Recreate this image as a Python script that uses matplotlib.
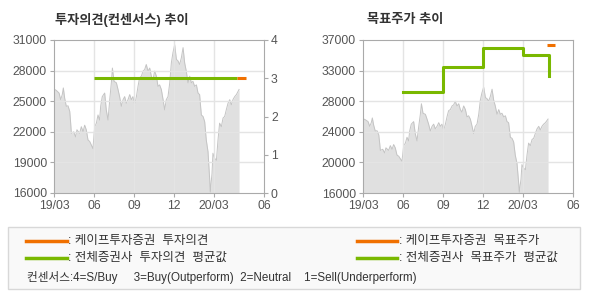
import matplotlib
matplotlib.use("Agg")
import matplotlib.pyplot as plt
from matplotlib.patches import Rectangle
from matplotlib.lines import Line2D

plt.rcParams['font.family'] = ['Liberation Sans', 'Noto Sans CJK KR', 'DejaVu Sans']

# month offsets from 2019/03 and closing price
months = [0, 0.18, 0.38, 0.5, 0.62, 0.7, 0.8, 0.92, 1.05, 1.18, 1.25, 1.3, 1.48, 1.62,
          1.72, 1.92, 2.05, 2.18, 2.3, 2.42, 2.55, 2.68, 2.8, 2.92, 3.05, 3.18, 3.3, 3.42,
          3.5, 3.62, 3.8, 3.92, 4.05, 4.18, 4.3, 4.38, 4.5, 4.68, 4.8, 4.92, 5.05, 5.18,
          5.3, 5.42, 5.55, 5.68, 5.8, 5.92, 6.05, 6.18, 6.3, 6.42, 6.55, 6.68, 6.8, 6.92,
          7.05, 7.18, 7.3, 7.42, 7.55, 7.68, 7.8, 7.92, 8.05, 8.18, 8.3, 8.42, 8.55, 8.68,
          8.8, 8.92, 9.05, 9.18, 9.3, 9.42, 9.55, 9.68, 9.8, 9.92, 10.05, 10.18, 10.3, 10.42,
          10.55, 10.68, 10.8, 10.92, 11.05, 11.18, 11.3, 11.42, 11.55, 11.68, 11.72, 11.85,
          11.92, 12.05, 12.18, 12.3, 12.42, 12.55, 12.68, 12.8, 12.92, 13.05, 13.18, 13.3,
          13.42, 13.55, 13.68, 13.8, 13.88]
price = [26200, 26050, 25800, 25150, 25650, 26300, 25300, 24500, 24550, 24000, 22850, 21850,
         22000, 21500, 22200, 21850, 22500, 22000, 22650, 22200, 21200, 21050, 20700, 20350,
         22500, 22850, 23650, 23150, 24500, 25450, 25800, 24150, 23150, 25150, 26800, 28250,
         26950, 26800, 26150, 25450, 24500, 25150, 25450, 24800, 25150, 25650, 25150, 25450,
         24650, 25450, 26450, 27300, 27450, 27950, 28100, 28600, 27950, 28250, 27450, 27100,
         27950, 27450, 26450, 26600, 26150, 25150, 24150, 25150, 25450, 26800, 28750, 29750,
         30550, 29100, 28950, 28600, 29250, 30250, 28750, 27950, 26800, 27450, 26800, 26950,
         26450, 26600, 25800, 25650, 23650, 23500, 23000, 21200, 20050, 17250, 16100, 17900,
         19900, 19400, 19200, 21200, 22850, 22500, 23350, 23500, 24150, 24800, 25150, 24650,
         25150, 25450, 25650, 25950, 26150]

# consensus opinion (3 = Buy)
op_avg_x = [3, 13.75]
op_avg_y = [3, 3]
op_firm_x = [13.75, 14.43]
op_firm_y = [3, 3]

# target price
tp_avg_x = [3, 6, 9, 12, 13.93]
tp_avg_y = [29900, 33300, 35950, 34900, 32000]
tp_firm_x = [13.78, 14.43]
tp_firm_y = [36300, 36300]

xtick_pos = [0, 3, 6, 9, 12, 15.75]
xtick_lab = ['19/03', '06', '09', '12', '20/03', '06']

GREEN = '#79b800'
ORANGE = '#f07000'
FRAME = '#aaaaaa'
GRID = '#e4e4e4'
TXT = '#555555'


def style_axis(ax, ylo, yhi, yticks, ylabels):
    ax.set_xlim(0, 15.75)
    ax.set_ylim(ylo, yhi)
    ax.set_xticks(xtick_pos)
    ax.set_xticklabels(xtick_lab)
    ax.set_yticks(yticks)
    ax.set_yticklabels(ylabels)
    for s in ax.spines.values():
        s.set_color(FRAME)
    ax.tick_params(colors=FRAME, labelcolor=TXT, labelsize=8.7, length=3, width=0.8, pad=2)
    for t in yticks[1:-1]:
        ax.axhline(t, color=GRID, lw=1, zorder=2)
    for t in xtick_pos[1:-1]:
        ax.axvline(t, color=GRID, lw=1, zorder=2)


fig = plt.figure(figsize=(5.9, 3.0), dpi=100)

# left chart: opinion
ax1 = fig.add_axes([54 / 590, 1 - 193 / 300, 210 / 590, 153 / 300])
left_ticks = [16000, 19000, 22000, 25000, 28000, 31000]
style_axis(ax1, 16000, 31000, left_ticks, [str(v) for v in left_ticks])
ax1.fill_between(months, price, 16000, color='#e0e0e0', lw=0, zorder=1)
ax1.plot(months, price, color='#c4c4c4', lw=0.7, zorder=1.5)
ax1b = ax1.twinx()
ax1b.set_ylim(0, 4)
ax1b.set_yticks([0, 1, 2, 3, 4])
for s in ax1b.spines.values():
    s.set_visible(False)
ax1b.tick_params(colors=FRAME, labelcolor=TXT, labelsize=8.7, length=3, width=0.8, pad=2)
ax1b.plot(op_avg_x, op_avg_y, color=GREEN, lw=2.2, solid_capstyle='butt')
ax1b.plot(op_firm_x, op_firm_y, color=ORANGE, lw=2.2, solid_capstyle='butt')
fig.text(55 / 590, 1 - 20 / 300, '투자의견(컨센서스) 추이', fontsize=9.5, fontweight='bold',
         color='#333333', va='center', ha='left')

# right chart: target price
ax2 = fig.add_axes([363 / 590, 1 - 193 / 300, 210 / 590, 153 / 300])
right_ticks = [16000, 20200, 24400, 28600, 32800, 37000]
style_axis(ax2, 16000, 37000, right_ticks,
           ['16000', '20000', '24000', '28000', '33000', '37000'])
ax2.fill_between(months, price, 16000, color='#e0e0e0', lw=0, zorder=1)
ax2.plot(months, price, color='#c4c4c4', lw=0.7, zorder=1.5)
ax2.plot(tp_avg_x, tp_avg_y, color=GREEN, lw=2.2, drawstyle='steps-post', zorder=3)
ax2.plot(tp_firm_x, tp_firm_y, color=ORANGE, lw=2.2, solid_capstyle='butt', zorder=3)
fig.text(367 / 590, 1 - 20 / 300, '목표주가 추이', fontsize=9.5, fontweight='bold',
         color='#333333', va='center', ha='left')

# legend box
fig.patches.append(Rectangle((8 / 590, 1 - 289 / 300), 572 / 590, 62 / 300,
                             transform=fig.transFigure, facecolor='#f9f9f9',
                             edgecolor='#d8d8d8', lw=1))
rows = [(240.7, ORANGE, ': 케이프투자증권  투자의견', ': 케이프투자증권  목표주가'),
        (258, GREEN, ': 전체증권사  투자의견  평균값', ': 전체증권사  목표주가  평균값')]
for y, col, t1, t2 in rows:
    yy = 1 - y / 300
    fig.lines.append(Line2D([26 / 590, 67 / 590], [yy, yy], transform=fig.transFigure,
                            color=col, lw=2.5))
    fig.lines.append(Line2D([357 / 590, 397 / 590], [yy, yy], transform=fig.transFigure,
                            color=col, lw=2.5))
    fig.text(68 / 590, yy, t1, fontsize=9, color='#333333', va='center')
    fig.text(399 / 590, yy, t2, fontsize=9, color='#333333', va='center')
fig.text(27 / 590, 1 - 278 / 300,
         '컨센서스:4=S/Buy     3=Buy(Outperform)  2=Neutral    1=Sell(Underperform)',
         fontsize=8.4, color='#333333', va='center')

fig.savefig('out.png', dpi=100)
